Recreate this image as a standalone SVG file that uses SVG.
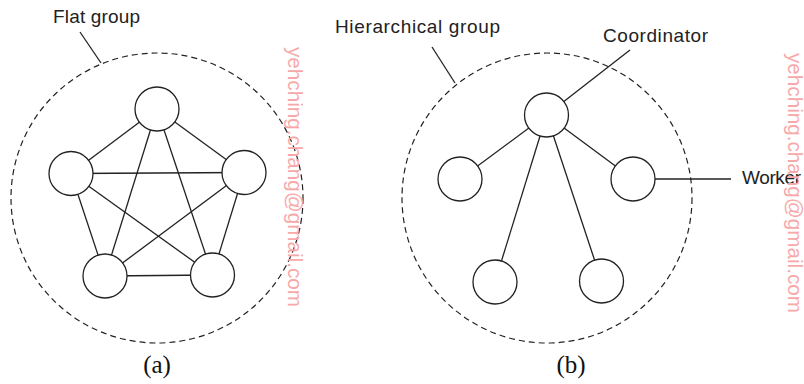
<svg xmlns="http://www.w3.org/2000/svg" width="804" height="384" viewBox="0 0 804 384">
<style>
.group{fill:none;stroke:#222;stroke-width:1.2;stroke-dasharray:6 4}
.node{fill:#fff;stroke:#222;stroke-width:1.3}
.edge{stroke:#222;stroke-width:1.3;fill:none}
.lbl{font-family:"Liberation Sans",Arial,sans-serif;font-size:19px;fill:#222}
.cap{font-family:"Liberation Serif","Times New Roman",serif;font-size:25px;fill:#111;text-anchor:middle}
.wm{font-family:"Liberation Sans",Arial,sans-serif;font-size:21px;fill:#f7a8a8}
</style>
<g id="flat-group">
<ellipse class="group" cx="157" cy="198" rx="146" ry="145"/>
<line class="edge" x1="80" y1="32" x2="101" y2="63"/>
<text class="lbl" x="53" y="23" textLength="87" lengthAdjust="spacing">Flat group</text>
</g>
<g id="hier-group">
<ellipse class="group" cx="547" cy="198" rx="145" ry="145"/>
<line class="edge" x1="432" y1="47" x2="455" y2="83"/>
<text class="lbl" x="335" y="33" textLength="165" lengthAdjust="spacing">Hierarchical group</text>
</g>
<g id="connectors">
<line class="edge" x1="157" y1="109" x2="71" y2="173.5"/>
<line class="edge" x1="157" y1="109" x2="244" y2="172.5"/>
<line class="edge" x1="157" y1="109" x2="105" y2="276"/>
<line class="edge" x1="157" y1="109" x2="212.5" y2="275"/>
<line class="edge" x1="71" y1="173.5" x2="244" y2="172.5"/>
<line class="edge" x1="71" y1="173.5" x2="105" y2="276"/>
<line class="edge" x1="71" y1="173.5" x2="212.5" y2="275"/>
<line class="edge" x1="244" y1="172.5" x2="105" y2="276"/>
<line class="edge" x1="244" y1="172.5" x2="212.5" y2="275"/>
<line class="edge" x1="105" y1="276" x2="212.5" y2="275"/>
<line class="edge" x1="546.5" y1="115" x2="460" y2="179"/>
<line class="edge" x1="546.5" y1="115" x2="633" y2="179"/>
<line class="edge" x1="546.5" y1="115" x2="495" y2="282"/>
<line class="edge" x1="546.5" y1="115" x2="601.5" y2="281"/>
<line class="edge" x1="546.5" y1="115" x2="630" y2="50"/>
<line class="edge" x1="633" y1="179" x2="731" y2="179"/>
</g>
<g id="a-top"><circle class="node" cx="157" cy="109" r="22"/></g>
<g id="a-left"><circle class="node" cx="71" cy="173.5" r="22"/></g>
<g id="a-right"><circle class="node" cx="244" cy="172.5" r="22"/></g>
<g id="a-bl"><circle class="node" cx="105" cy="276" r="22"/></g>
<g id="a-br"><circle class="node" cx="212.5" cy="275" r="22"/></g>
<g id="coordinator"><circle class="node" cx="546.5" cy="115" r="22"/></g>
<g id="b-left"><circle class="node" cx="460" cy="179" r="22"/></g>
<g id="b-right"><circle class="node" cx="633" cy="179" r="22"/></g>
<g id="b-bl"><circle class="node" cx="495" cy="282" r="22"/></g>
<g id="b-br"><circle class="node" cx="601.5" cy="281" r="22"/></g>
<g id="labels">
<text class="lbl" x="742" y="184" textLength="59" lengthAdjust="spacing">Worker</text>
<text class="lbl" x="603" y="42" textLength="105" lengthAdjust="spacing">Coordinator</text>
<text class="cap" x="157" y="373">(a)</text>
<text class="cap" x="571" y="373">(b)</text>
</g>
<g id="watermarks">
<text class="wm" transform="translate(288,47) rotate(90)" textLength="260" lengthAdjust="spacingAndGlyphs">yehching.chang@gmail.com</text>
<text class="wm" transform="translate(788,53) rotate(90)" textLength="260" lengthAdjust="spacingAndGlyphs">yehching.chang@gmail.com</text>
</g>
</svg>
